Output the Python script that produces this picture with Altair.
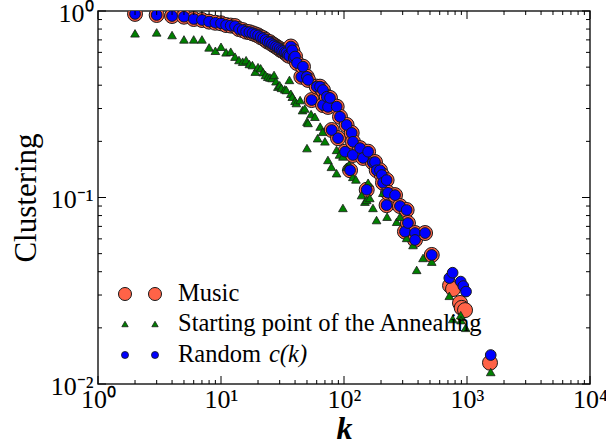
import altair as alt
import pandas as pd

# ---- clustering c(k) against degree k -------------------------------------
# values shared by the Music network and the random c(k) reference
shared_k = [2, 3, 4, 5, 6, 7, 8, 9, 10, 11,
            12, 13, 14, 15, 16, 17, 18, 19, 20, 21,
            22, 23, 24, 25, 26, 27, 28, 29, 30, 31,
            32, 33, 34, 35, 36, 37, 38, 39, 40,
            41.5, 45, 46.4, 49.8, 51, 54.6, 60, 63.8, 67.4, 67.5,
            72.4, 74.1, 76.9, 79.4, 87.2, 89.4, 92.8, 102, 105, 112,
            115.5, 118, 118.3, 135, 143, 153, 157, 172, 178.6, 184.5,
            196, 203, 207.5, 222, 222, 228, 260, 285, 313, 323,
            331, 378, 378, 456, 517]
shared_c = [0.965, 0.952, 0.94, 0.932, 0.906, 0.895, 0.877, 0.865, 0.859, 0.841,
            0.835, 0.83, 0.80, 0.79, 0.775, 0.77, 0.76, 0.75, 0.74, 0.725,
            0.715, 0.70, 0.685, 0.68, 0.665, 0.655, 0.645, 0.635, 0.625, 0.615,
            0.61, 0.60, 0.595, 0.58, 0.575, 0.645, 0.615, 0.56, 0.57,
            0.526, 0.444, 0.503, 0.444, 0.427, 0.333, 0.393, 0.393, 0.377, 0.313,
            0.347, 0.306, 0.342, 0.230, 0.307, 0.208, 0.271, 0.176, 0.245, 0.140,
            0.222, 0.169, 0.199, 0.184, 0.163, 0.110, 0.176, 0.154, 0.155, 0.140,
            0.140, 0.132, 0.12, 0.124, 0.091, 0.106, 0.103, 0.090, 0.0656, 0.0857,
            0.073, 0.0645, 0.0592, 0.0645, 0.0492]

# high-degree hubs, where the two series part ways
music_tail_k = [728, 770, 877, 906, 964, 1538]
music_tail_c = [0.0337, 0.0323, 0.0272, 0.0256, 0.0249, 0.013]
random_tail_k = [718, 764, 889, 933, 982, 1559]
random_tail_c = [0.037, 0.0395, 0.0354, 0.0335, 0.0313, 0.0143]

# starting point of the annealing
start_k = [2, 3, 4, 5, 6, 7, 8, 9, 10, 11,
           12, 13, 14, 15, 16, 17, 18, 19, 20, 21,
           22, 23, 24, 25, 26, 27, 28, 29, 30, 31,
           33, 34, 36, 37, 38, 40, 41, 44, 46, 48,
           50, 50, 51, 54, 58, 61, 64, 67, 70, 74,
           79, 87, 87, 92, 98, 98, 105, 110, 118, 125,
           139, 148, 153, 157, 162, 172, 184, 207, 224, 268,
           285, 323, 364, 390, 439, 517, 718, 765, 889, 894,
           975, 1559]
start_c = [0.759, 0.768, 0.743, 0.704, 0.704, 0.704, 0.638, 0.612, 0.643, 0.60,
           0.605, 0.569, 0.546, 0.535, 0.545, 0.52, 0.513, 0.473, 0.50, 0.493,
           0.47, 0.454, 0.444, 0.44, 0.437, 0.454, 0.42, 0.393, 0.40, 0.387,
           0.38, 0.377, 0.427, 0.36, 0.347, 0.33, 0.321, 0.333, 0.294, 0.30,
           0.255, 0.184, 0.251, 0.28, 0.271, 0.208, 0.24, 0.225, 0.20, 0.159,
           0.146, 0.135, 0.180, 0.17, 0.166, 0.0879, 0.146, 0.15, 0.129, 0.125,
           0.103, 0.095, 0.097, 0.12, 0.0994, 0.0879, 0.0757, 0.106, 0.0789, 0.0741,
           0.0789, 0.0607, 0.0556, 0.0409, 0.0474, 0.0453, 0.0297, 0.0223, 0.0234, 0.022,
           0.020, 0.0116]

x_major = [1, 10, 100, 1000, 10000]
y_major = [0.01, 0.1, 1]
x_minor = [m * 10 ** e for e in range(4) for m in range(2, 10)]
y_minor = [m * 10.0 ** e for e in (-2, -1) for m in range(2, 10)]

music = pd.DataFrame({"k": shared_k + music_tail_k, "c": shared_c + music_tail_c})
random_ck = pd.DataFrame({"k": shared_k + random_tail_k, "c": shared_c + random_tail_c})
start = pd.DataFrame({"k": start_k, "c": start_c})

W, H = 492, 373
FONT = "Liberation Serif"
SALMON = "#FF6347"
GREEN = "#008000"
BLUE = "#0000FF"
EDGE = "#1a1a1a"

xs = alt.Scale(type="log", domain=[1, 10000], nice=False)
ys = alt.Scale(type="log", domain=[0.01, 1], nice=False)

sup = ("'10' + (round(log(datum.value)/LN10) == -2 ? '⁻²' : "
       "round(log(datum.value)/LN10) == -1 ? '⁻¹' : "
       "round(log(datum.value)/LN10) == 0 ? '⁰' : "
       "round(log(datum.value)/LN10) == 1 ? '¹' : "
       "round(log(datum.value)/LN10) == 2 ? '²' : "
       "round(log(datum.value)/LN10) == 3 ? '³' : '⁴')")

x_axis = alt.Axis(values=x_major, labelExpr=sup, ticks=False, domain=False, grid=False,
                  labelFlush=False, labelOverlap=False, labelFont=FONT, labelFontSize=26,
                  labelColor="black", labelPadding=2, title="k", titleFont=FONT,
                  titleFontSize=32, titleFontStyle="italic", titleFontWeight="bold",
                  titleColor="black", titlePadding=1)
y_axis = alt.Axis(values=y_major, labelExpr=sup, ticks=False, domain=False, grid=False,
                  labelFlush=False, labelOverlap=False, labelFont=FONT, labelFontSize=26,
                  labelColor="black", labelPadding=5, labelOffset=2, title="Clustering",
                  titleFont=FONT, titleFontSize=31, titleFontWeight="normal",
                  titleColor="black", titlePadding=8)


def X(field):
    return alt.X(field, scale=xs, axis=x_axis)


def Y(field):
    return alt.Y(field, scale=ys, axis=y_axis)


music_layer = alt.Chart(music).mark_point(
    shape="circle", filled=True, size=225, fill=SALMON, stroke=EDGE,
    strokeWidth=1, opacity=1, clip=True
).encode(x=X("k:Q"), y=Y("c:Q"))

start_layer = alt.Chart(start).mark_point(
    shape="triangle-up", filled=True, size=75, fill=GREEN, stroke=EDGE,
    strokeWidth=0.8, opacity=1, clip=True
).encode(x=X("k:Q"), y=Y("c:Q"))

random_layer = alt.Chart(random_ck).mark_point(
    shape="circle", filled=True, size=115, fill=BLUE, stroke=EDGE,
    strokeWidth=1, opacity=1, clip=True
).encode(x=X("k:Q"), y=Y("c:Q"))


# inward-pointing ticks on all four sides of the frame
def x_ticks(vals, length):
    base = alt.Chart(pd.DataFrame({"k": vals})).mark_rule(color="black", strokeWidth=1)
    return [base.encode(x=X("k:Q"), y=alt.value(H), y2=alt.value(H - length)),
            base.encode(x=X("k:Q"), y=alt.value(0), y2=alt.value(length))]


def y_ticks(vals, length):
    base = alt.Chart(pd.DataFrame({"c": vals})).mark_rule(color="black", strokeWidth=1)
    return [base.encode(y=Y("c:Q"), x=alt.value(0), x2=alt.value(length)),
            base.encode(y=Y("c:Q"), x=alt.value(W), x2=alt.value(W - length))]


ticks = x_ticks(x_major, 8) + x_ticks(x_minor, 4) + y_ticks(y_major, 8) + y_ticks(y_minor, 4)

# legend: two sample markers per entry, labels to the right
rows = {"Music": 283, "Starting point of the Annealing": 313, "Random": 344}
one = pd.DataFrame({"n": [0]})
legend = []
for mx in (27, 57):
    legend.append(alt.Chart(one).mark_point(shape="circle", filled=True, size=170, fill=SALMON,
                                             stroke=EDGE, strokeWidth=1, opacity=1)
                  .encode(x=alt.value(mx), y=alt.value(rows["Music"])))
    legend.append(alt.Chart(one).mark_point(shape="triangle-up", filled=True, size=40, fill=GREEN,
                                             stroke=EDGE, strokeWidth=0.8, opacity=1)
                  .encode(x=alt.value(mx), y=alt.value(rows["Starting point of the Annealing"])))
    legend.append(alt.Chart(one).mark_point(shape="circle", filled=True, size=50, fill=BLUE,
                                             stroke=EDGE, strokeWidth=0.8, opacity=1)
                  .encode(x=alt.value(mx), y=alt.value(rows["Random"])))
for label, yy in rows.items():
    legend.append(alt.Chart(pd.DataFrame({"t": [label]})).mark_text(
        align="left", baseline="middle", font=FONT, fontSize=24.5, color="black"
    ).encode(x=alt.value(80), y=alt.value(yy), text="t:N"))
legend.append(alt.Chart(pd.DataFrame({"t": ["c(k)"]})).mark_text(
    align="left", baseline="middle", font=FONT, fontSize=24.5, fontStyle="italic", color="black"
).encode(x=alt.value(171), y=alt.value(rows["Random"]), text="t:N"))

chart = alt.layer(music_layer, start_layer, random_layer, *ticks, *legend).properties(
    width=W, height=H,
    padding={"left": 98, "top": 11, "right": 16, "bottom": 61},
    autosize=alt.AutoSizeParams(type="none"),
    background="white",
).configure_view(stroke="#222222", strokeWidth=1.5)

chart.save("out.html", embed_options={"renderer": "svg", "actions": False})
